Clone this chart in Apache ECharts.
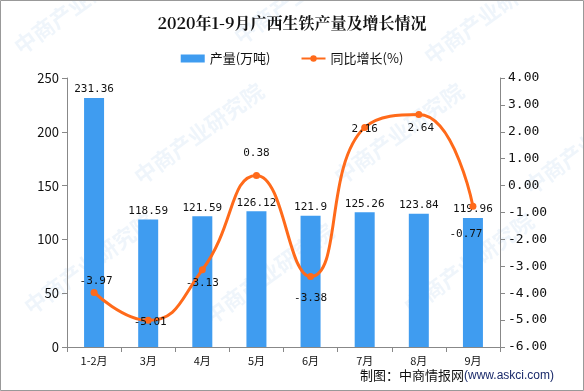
<!DOCTYPE html>
<html><head><meta charset="utf-8">
<script src="https://cdn.jsdelivr.net/npm/echarts@6/dist/echarts.min.js"></script>
<style>html,body{margin:0;padding:0;background:#fff}#c{width:584px;height:391px}</style>
</head><body><div id="c"></div>
<script>
const categories = ['1-2月','3月','4月','5月','6月','7月','8月','9月'];
const output = [231.36, 118.59, 121.59, 126.12, 121.9, 125.26, 123.84, 119.96];
const growth = [-3.97, -5.01, -3.13, 0.38, -3.38, 2.16, 2.64, -0.77];
const leftTicks = [0, 250, 50];
const rightTicks = [-6, 4, 1];
// label offsets for line labels (layout only)
const lineLabelOffsets = [[2,3],[2,16],[0,27],[0,-8],[0,36],[0,16],[2,28],[-7,42]];

const chart = echarts.init(document.getElementById('c'));
const font = '"Noto Sans CJK SC", sans-serif';
const wm = [];
const wmPos = [[10,40],[230,30],[420,50],[130,170],[330,170],[520,180],[20,300],[200,310],[400,300]];
wmPos.forEach(p => wm.push({type:'text', x:p[0], y:p[1], rotation:Math.PI/5, silent:true, z:-1,
  style:{text:'中商产业研究院', fill:'rgba(120,170,220,0.12)', font:'bold 22px "Noto Sans CJK SC"'}}));
chart.setOption({
  animation:false,
  title:{text:'2020年1-9月广西生铁产量及增长情况', left:'center', top:10,
    textStyle:{fontFamily:'"Noto Serif CJK SC","Noto Sans CJK SC",serif', fontWeight:'bold', fontSize:16, color:'#111'}},
  legend:{top:47, left:'center', itemGap:30, itemWidth:24, itemHeight:8,
    textStyle:{fontFamily:font, fontSize:13, color:'#111'},
    data:[{name:'产量(万吨)', icon:'rect'},{name:'同比增长(%)'}]},
  grid:{left:67, right:84, top:78, bottom:44},
  xAxis:{type:'category', data:categories,
    axisLine:{lineStyle:{color:'#888'}}, axisTick:{show:true, lineStyle:{color:'#888'}},
    axisLabel:{color:'#111', fontFamily:font, fontSize:11, margin:8}},
  yAxis:[
    {type:'value', min:leftTicks[0], max:leftTicks[1], interval:leftTicks[2],
      axisLine:{show:true, lineStyle:{color:'#888'}}, axisTick:{show:true, lineStyle:{color:'#888'}},
      splitLine:{show:false}, axisLabel:{color:'#111', fontSize:13, fontFamily:font}},
    {type:'value', min:rightTicks[0], max:rightTicks[1], interval:rightTicks[2],
      axisLine:{show:true, lineStyle:{color:'#888'}}, axisTick:{show:true, lineStyle:{color:'#888'}},
      splitLine:{show:false}, axisLabel:{color:'#111', fontSize:13, fontFamily:'"DejaVu Sans Mono",monospace', formatter:v=>v.toFixed(2)}}
  ],
  series:[
    {name:'产量(万吨)', type:'bar', data:output, barWidth:20, itemStyle:{color:'#3F9CF0'},
      label:{show:true, position:'top', color:'#111', fontSize:11, fontFamily:'"DejaVu Sans Mono",monospace', distance:3}},
    {name:'同比增长(%)', type:'line', yAxisIndex:1, smooth:true, symbol:'circle', symbolSize:7,
      lineStyle:{color:'#FF6A1A', width:3}, itemStyle:{color:'#FF6A1A'},
      data:growth.map((v,i)=>({value:v, label:{offset:lineLabelOffsets[i]}})),
      label:{show:true, position:'top', color:'#111', fontSize:11, fontFamily:'"DejaVu Sans Mono",monospace'}}
  ],
  graphic:[
    {type:'rect', shape:{x:0.5,y:0.5,width:583,height:390}, style:{fill:'none', stroke:'#999', lineWidth:1}, silent:true},
    ...wm,
    {type:'text', right:30, top:369, style:{rich:{a:{fill:'#111', font:'13px "Noto Sans CJK SC"'}, b:{fill:'#1a2a6a', font:'12px "Liberation Sans"'}}, text:'{a|制图：中商情报网}{b|(www.askci.com)}'}}
  ]
});
</script></body></html>
